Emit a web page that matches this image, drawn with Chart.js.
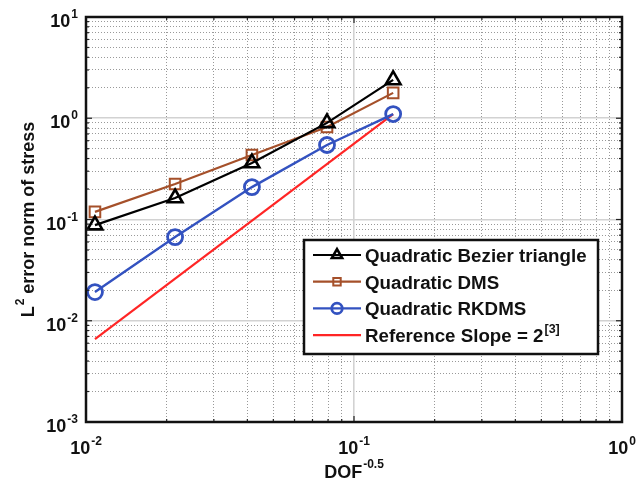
<!DOCTYPE html>
<html>
<head>
<meta charset="utf-8">
<script src="https://cdn.jsdelivr.net/npm/chart.js@4/dist/chart.umd.min.js"></script>
<style>
html,body{margin:0;padding:0;background:#fff;}
#wrap{width:636px;height:491px;}
</style>
</head>
<body>
<div id="wrap"><canvas id="errChart"></canvas></div>
<script>
// DOF^-0.5 of the five meshes
var dof = [0.0108, 0.0215, 0.0416, 0.0793, 0.140];
var bezierErr = [0.088, 0.163, 0.361, 0.90, 2.39];
var dmsErr = [0.119, 0.224, 0.434, 0.82, 1.78];
var rkdmsErr = [0.0192, 0.067, 0.209, 0.544, 1.10];
// reference slope line (two ends)
var refX = [0.0108, 0.140];
var refErr = [0.0066, 1.10];

var xTicks = [0.01, 0.1, 1];
var yTicks = [0.001, 0.01, 0.1, 1, 10];

var seriesNames = ["Quadratic Bezier triangle", "Quadratic DMS", "Quadratic RKDMS", "Reference Slope = 2"];

var FONT = '"Liberation Sans", Arial, sans-serif';

function pts(xs, ys) {
  return xs.map(function (x, i) { return {x: x, y: ys[i]}; });
}
function isDecade(v) {
  var l = Math.log10(v);
  return Math.abs(l - Math.round(l)) < 1e-6;
}
// 1..9 x 10^n between the first and last decade
function minorTicks(list) {
  var out = [];
  for (var i = 0; i < list.length - 1; i++)
    for (var k = 1; k < 10; k++) out.push({value: k * list[i]});
  out.push({value: list[list.length - 1]});
  return out;
}

var minorGrid = {
  color: function (c) { return c.tick && isDecade(c.tick.value) ? 'rgba(0,0,0,0)' : '#999999'; },
  lineWidth: 1,
  drawTicks: false
};
var majorGrid = { color: '#d2d2d2', lineWidth: 1.6, drawTicks: false };

// frame, inward ticks, tick labels, titles and legend
var decorPlugin = {
  id: 'decor',
  afterDraw: function (chart) {
    var ctx = chart.ctx, a = chart.chartArea;
    var xs = chart.scales.x, ys = chart.scales.y;
    ctx.save();

    function seg(x1, y1, x2, y2) {
      ctx.beginPath(); ctx.moveTo(x1, y1); ctx.lineTo(x2, y2); ctx.stroke();
    }
    ctx.strokeStyle = '#222';
    ctx.lineWidth = 1.2;
    xs.ticks.forEach(function (t) {
      var p = xs.getPixelForValue(t.value), len = isDecade(t.value) ? 6 : 3;
      seg(p, a.bottom, p, a.bottom - len);
      seg(p, a.top, p, a.top + len);
    });
    ys.ticks.forEach(function (t) {
      var p = ys.getPixelForValue(t.value), len = isDecade(t.value) ? 6 : 3;
      seg(a.left, p, a.left + len, p);
      seg(a.right, p, a.right - len, p);
    });

    ctx.lineWidth = 2.5;
    ctx.strokeStyle = '#111';
    ctx.strokeRect(a.left, a.top, a.right - a.left, a.bottom - a.top);

    ctx.fillStyle = '#111';
    var big = 'bold 18px ' + FONT, small = 'bold 12px ' + FONT;
    function powWidth(base, exp) {
      ctx.font = big; var w1 = ctx.measureText(base).width;
      ctx.font = small; var w2 = ctx.measureText(exp).width;
      return [w1, w2];
    }
    function drawPow(base, exp, left, baseY, raise) {
      var w = powWidth(base, exp);
      ctx.textAlign = 'left';
      ctx.textBaseline = 'alphabetic';
      ctx.font = big; ctx.fillText(base, left, baseY);
      ctx.font = small; ctx.fillText(exp, left + w[0] + 1, baseY - raise);
      return w[0] + w[1] + 1;
    }

    xTicks.forEach(function (v) {
      var e = String(Math.round(Math.log10(v)));
      var w = powWidth('10', e);
      var p = xs.getPixelForValue(v);
      drawPow('10', e, p - (w[0] + w[1] + 1) / 2, a.bottom + 32, 9);
    });
    yTicks.forEach(function (v) {
      var e = String(Math.round(Math.log10(v)));
      var w = powWidth('10', e);
      var p = ys.getPixelForValue(v);
      drawPow('10', e, a.left - 8 - (w[0] + w[1] + 1), p + 10, 9);
    });

    // x title
    var tw = powWidth('DOF', '-0.5');
    drawPow('DOF', '-0.5', (a.left + a.right) / 2 - (tw[0] + tw[1] + 1) / 2, a.bottom + 56, 10);

    // y title (rotated)
    ctx.save();
    ctx.translate(34, (a.top + a.bottom) / 2);
    ctx.rotate(-Math.PI / 2);
    var w1 = powWidth('L', '2');
    ctx.font = big;
    var w3 = ctx.measureText(' error norm of stress').width;
    var total = w1[0] + w1[1] + 1 + w3;
    var used = drawPow('L', '2', -total / 2, 0, 10);
    ctx.font = big;
    ctx.fillText(' error norm of stress', -total / 2 + used, 0);
    ctx.restore();

    // legend
    var lx = a.left + 218, ly = a.top + 223, lw = 294, lh = 114;
    ctx.fillStyle = '#fff';
    ctx.fillRect(lx, ly, lw, lh);
    ctx.lineWidth = 2.5;
    ctx.strokeStyle = '#111';
    ctx.strokeRect(lx, ly, lw, lh);
    chart.data.datasets.forEach(function (ds, i) {
      var cy = ly + 15 + i * 26.7;
      ctx.strokeStyle = ds.borderColor;
      ctx.lineWidth = ds.borderWidth;
      seg(lx + 9, cy, lx + 57, cy);
      if (ds.pointRadius > 0) {
        ctx.fillStyle = 'rgba(0,0,0,0)';
        ctx.lineWidth = ds.pointBorderWidth;
        Chart.helpers.drawPoint(ctx, {pointStyle: ds.pointStyle, radius: ds.pointRadius * 0.7, rotation: 0, borderWidth: ds.pointBorderWidth}, lx + 33, cy);
      }
      ctx.fillStyle = '#111';
      ctx.save();
      ctx.translate(lx + 61, cy + 7);
      ctx.scale(1.04, 1);
      drawPow(ds.label, i === 3 ? '[3]' : '', 0, 0, 9);
      ctx.restore();
    });

    ctx.restore();
  }
};

new Chart(document.getElementById('errChart'), {
  type: 'line',
  data: {
    datasets: [{
      label: seriesNames[0],
      data: pts(dof, bezierErr),
      borderColor: '#000000',
      borderWidth: 2.2,
      pointStyle: 'triangle',
      pointRadius: 8.5,
      pointBorderWidth: 2.6,
      pointBackgroundColor: 'rgba(0,0,0,0)',
      pointBorderColor: '#000000'
    }, {
      label: seriesNames[1],
      data: pts(dof, dmsErr),
      borderColor: '#a5502a',
      borderWidth: 2.2,
      pointStyle: 'rect',
      pointRadius: 7.5,
      pointBorderWidth: 2,
      pointBackgroundColor: 'rgba(0,0,0,0)',
      pointBorderColor: '#a5502a'
    }, {
      label: seriesNames[2],
      data: pts(dof, rkdmsErr),
      borderColor: '#3352c0',
      borderWidth: 2.4,
      pointStyle: 'circle',
      pointRadius: 7.5,
      pointBorderWidth: 2.8,
      pointBackgroundColor: 'rgba(0,0,0,0)',
      pointBorderColor: '#3352c0'
    }, {
      label: seriesNames[3],
      data: pts(refX, refErr),
      borderColor: '#ff2525',
      borderWidth: 2.2,
      pointRadius: 0
    }]
  },
  options: {
    responsive: true,
    maintainAspectRatio: false,
    animation: false,
    layout: { padding: { left: 86, top: 17, right: 14, bottom: 69 } },
    plugins: { legend: { display: false }, tooltip: { enabled: false } },
    elements: { line: { tension: 0 } },
    scales: {
      x: {
        type: 'logarithmic', min: 0.01, max: 1,
        afterBuildTicks: function (s) { s.ticks = minorTicks(xTicks); },
        ticks: { display: false, autoSkip: false },
        grid: minorGrid,
        border: { display: false, dash: [1, 2] }
      },
      y: {
        type: 'logarithmic', min: 0.001, max: 10,
        afterBuildTicks: function (s) { s.ticks = minorTicks(yTicks); },
        ticks: { display: false, autoSkip: false },
        grid: minorGrid,
        border: { display: false, dash: [1, 2] }
      },
      x2: {
        type: 'logarithmic', min: 0.01, max: 1, position: 'top',
        afterBuildTicks: function (s) { s.ticks = xTicks.map(function (v) { return {value: v}; }); },
        ticks: { display: false, autoSkip: false },
        grid: majorGrid,
        border: { display: false }
      },
      y2: {
        type: 'logarithmic', min: 0.001, max: 10, position: 'right',
        afterBuildTicks: function (s) { s.ticks = yTicks.map(function (v) { return {value: v}; }); },
        ticks: { display: false, autoSkip: false },
        grid: majorGrid,
        border: { display: false }
      }
    }
  },
  plugins: [decorPlugin]
});
</script>
</body>
</html>
